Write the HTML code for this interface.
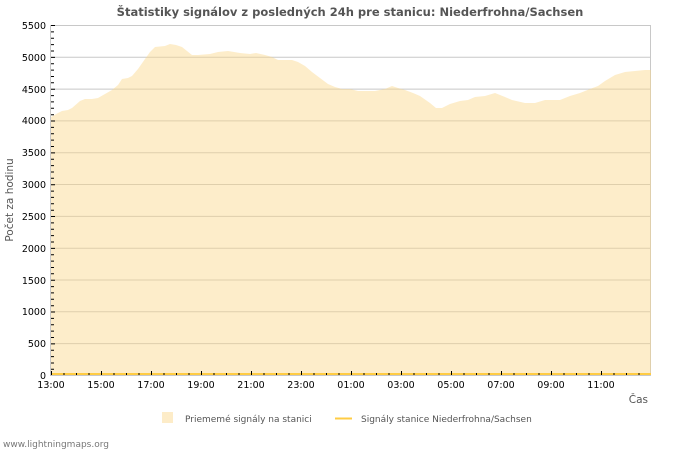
<!DOCTYPE html>
<html><head><meta charset="utf-8"><style>
body{margin:0;background:#fff;}
svg{display:block;font-family:"DejaVu Sans","Liberation Sans",sans-serif;}
</style></head><body>
<svg width="700" height="450" viewBox="0 0 700 450" xmlns="http://www.w3.org/2000/svg">
<text x="350" y="16" text-anchor="middle" font-size="11.5" font-weight="bold" fill="#555">Štatistiky signálov z posledných 24h pre stanicu: Niederfrohna/Sachsen</text>
<g stroke="#c8c8c8" stroke-width="1">
<line x1="51" y1="25.5" x2="651" y2="25.5"/>
<line x1="650.5" y1="25" x2="650.5" y2="375"/>
<line x1="51" y1="57.3" x2="651" y2="57.3"/>
<line x1="51" y1="89.1" x2="651" y2="89.1"/>
<line x1="51" y1="120.9" x2="651" y2="120.9"/>
<line x1="51" y1="152.7" x2="651" y2="152.7"/>
<line x1="51" y1="184.5" x2="651" y2="184.5"/>
<line x1="51" y1="216.4" x2="651" y2="216.4"/>
<line x1="51" y1="248.2" x2="651" y2="248.2"/>
<line x1="51" y1="280" x2="651" y2="280"/>
<line x1="51" y1="311.8" x2="651" y2="311.8"/>
<line x1="51" y1="343.6" x2="651" y2="343.6"/>
</g>
<polygon fill="#fbd78a" fill-opacity="0.45" points="51,375 51,117 58,113 62,111 68,110 72,108 80,101 85,99 92,99 98,98 105,94 112,90 118,85 122,79 128,78 132,76 138,69 145,59 150,52 155,47 165,46 170,44 176,45 182,47 187,51 192,55 198,55 210,54 218,52 228,51 240,53 250,54 256,53 265,55 272,57 278,60 292,60 298,62 305,66 312,72 320,78 328,84 335,87 342,89 350,89 358,91 375,91 385,89 392,86 398,88 405,90 413,93 420,96 430,103 436,108 442,108 450,104 460,101 468,100 475,97 485,96 495,93 505,97 512,100 525,103 535,103 545,100 560,100 570,96 580,93 590,89 598,86 605,81 615,75 625,72 635,71 645,70 651,70 651,375"/>
<line x1="51" y1="374" x2="651" y2="374" stroke="#ffcc44" stroke-width="2"/>
<line x1="50.5" y1="25" x2="50.5" y2="376" stroke="#c8c8c8"/>
<line x1="50" y1="375.5" x2="651" y2="375.5" stroke="#c8c8c8"/>
<g stroke="#000" stroke-width="1">
<path d="M51 25.5h4M51 31.9h3M51 38.3h3M51 44.6h3M51 51h3M51 57.4h4M51 63.7h3M51 70.1h3M51 76.5h3M51 82.8h3M51 89.2h4M51 95.6h3M51 101.9h3M51 108.3h3M51 114.7h3M51 121h4M51 127.4h3M51 133.8h3M51 140.1h3M51 146.5h3M51 152.9h4M51 159.2h3M51 165.6h3M51 172h3M51 178.3h3M51 184.7h4M51 191.1h3M51 197.4h3M51 203.8h3M51 210.2h3M51 216.5h4M51 222.9h3M51 229.3h3M51 235.6h3M51 242h3M51 248.4h4M51 254.7h3M51 261.1h3M51 267.5h3M51 273.8h3M51 280.2h4M51 286.6h3M51 292.9h3M51 299.3h3M51 305.7h3M51 312h4M51 318.4h3M51 324.8h3M51 331.1h3M51 337.5h3M51 343.9h4M51 350.2h3M51 356.6h3M51 363h3M51 369.3h3"/>
<path d="M51.5 375v-4M64 375v-2M76.5 375v-2M89 375v-2M101.5 375v-4M114 375v-2M126.5 375v-2M139 375v-2M151.5 375v-4M164 375v-2M176.5 375v-2M189 375v-2M201.5 375v-4M214 375v-2M226.5 375v-2M239 375v-2M251.5 375v-4M264 375v-2M276.5 375v-2M289 375v-2M301.5 375v-4M314 375v-2M326.5 375v-2M339 375v-2M351.5 375v-4M364 375v-2M376.5 375v-2M389 375v-2M401.5 375v-4M414 375v-2M426.5 375v-2M439 375v-2M451.5 375v-4M464 375v-2M476.5 375v-2M489 375v-2M501.5 375v-4M514 375v-2M526.5 375v-2M539 375v-2M551.5 375v-4M564 375v-2M576.5 375v-2M589 375v-2M601.5 375v-4M614 375v-2M626.5 375v-2M639 375v-2"/>
</g>
<g font-size="9.5" fill="#000" text-anchor="end">
<text x="46" y="29">5500</text><text x="46" y="61">5000</text><text x="46" y="93">4500</text><text x="46" y="124">4000</text><text x="46" y="156">3500</text><text x="46" y="188">3000</text><text x="46" y="220">2500</text><text x="46" y="252">2000</text><text x="46" y="284">1500</text><text x="46" y="315">1000</text><text x="46" y="347">500</text><text x="46" y="379">0</text>
</g>
<g font-size="9.5" fill="#000" text-anchor="middle">
<text x="51" y="388">13:00</text><text x="101" y="388">15:00</text><text x="151" y="388">17:00</text><text x="201" y="388">19:00</text><text x="251" y="388">21:00</text><text x="301" y="388">23:00</text><text x="351" y="388">01:00</text><text x="401" y="388">03:00</text><text x="451" y="388">05:00</text><text x="501" y="388">07:00</text><text x="551" y="388">09:00</text><text x="601" y="388">11:00</text>
</g>
<text x="648" y="403" font-size="10.5" fill="#555" text-anchor="end">Čas</text>
<text transform="translate(13,200) rotate(-90)" font-size="10.5" fill="#555" text-anchor="middle">Počet za hodinu</text>
<rect x="162" y="412" width="11" height="11" fill="#fdecc8"/>
<text x="185" y="422" font-size="9" fill="#555">Priememé signály na stanici</text>
<line x1="335" y1="418.5" x2="352" y2="418.5" stroke="#ffcc44" stroke-width="2"/>
<text x="361" y="422" font-size="9" fill="#555">Signály stanice Niederfrohna/Sachsen</text>
<text x="3" y="447" font-size="9" fill="#777">www.lightningmaps.org</text>
</svg>
</body></html>
